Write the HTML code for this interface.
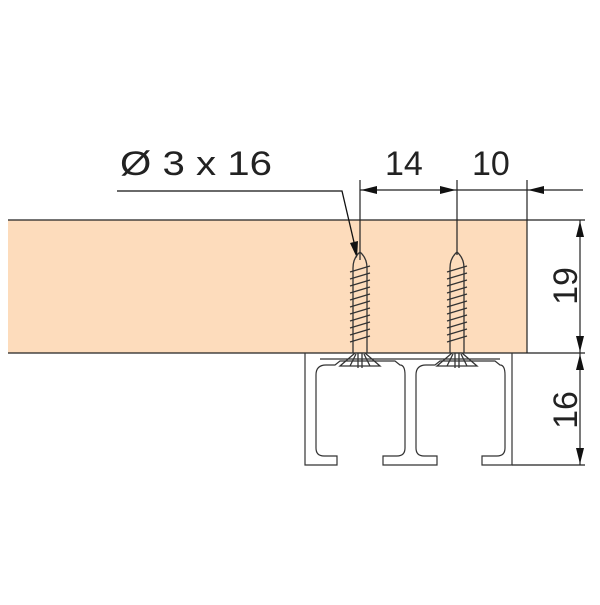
<!DOCTYPE html>
<html><head><style>body{margin:0;background:#fff}</style></head><body>
<svg width="600" height="600" viewBox="0 0 600 600" xmlns="http://www.w3.org/2000/svg" font-family="'Liberation Sans',sans-serif">
<rect x="8" y="220" width="519" height="133" fill="#fddcbc"/>
<line x1="8" y1="220" x2="585" y2="220" stroke="#222" stroke-width="1.3"/>
<line x1="8" y1="353" x2="585" y2="353" stroke="#222" stroke-width="1.3"/>
<line x1="527" y1="180" x2="527" y2="353" stroke="#222" stroke-width="1.2"/>
<line x1="360" y1="180" x2="360" y2="260" stroke="#222" stroke-width="1.2"/>
<line x1="457" y1="180" x2="457" y2="255" stroke="#222" stroke-width="1.2"/>
<line x1="360" y1="190" x2="583" y2="190" stroke="#222" stroke-width="1.2"/>
<polygon points="361,190 377,186 377,194" fill="#111"/>
<polygon points="456,190 440,186 440,194" fill="#111"/>
<polygon points="528,190 544,186 544,194" fill="#111"/>
<polyline points="117,191 342,191 357,255" fill="none" stroke="#111" stroke-width="1.3"/>
<polygon points="357,258 350,243 358,241" fill="#111"/>
<line x1="580" y1="220" x2="580" y2="465" stroke="#222" stroke-width="1.2"/>
<polygon points="580,221 576,237 584,237" fill="#111"/>
<polygon points="580,352 576,336 584,336" fill="#111"/>
<polygon points="580,354 576,370 584,370" fill="#111"/>
<polygon points="580,464 576,448 584,448" fill="#111"/>
<line x1="512" y1="465" x2="585" y2="465" stroke="#222" stroke-width="1.2"/>
<text x="120" y="175" font-size="34" fill="#222" textLength="152" lengthAdjust="spacingAndGlyphs">Ø 3 x 16</text>
<text x="385" y="175" font-size="34" fill="#222">14</text>
<text x="472" y="175" font-size="34" fill="#222">10</text>
<text transform="translate(577,286) rotate(-90)" text-anchor="middle" font-size="34" fill="#222">19</text>
<text transform="translate(577,410) rotate(-90)" text-anchor="middle" font-size="34" fill="#222">16</text>
<g fill="none" stroke="#333" stroke-width="1.2">
<path d="M305,353 V465 H337 V456 H324 Q316,456 316,448 V375 Q316,365 326,365 H335 L340,361 H395 L400,365 Q405,365 405,375 V448 Q405,456 397,456 H383 V465 H437 V456 H424 Q416,456 416,448 V375 Q416,365 426,365 H435 L440,361 H495 L500,365 Q505,365 505,375 V448 Q505,456 497,456 H482 V465 H512 V353"/>
<path d="M320,359 H500"/>
</g>
<g id="s" stroke="#333" stroke-width="1.3" fill="none">
<path d="M353,353 V268 Q353,258 360,252 Q367,258 367,268 V353"/>
<path d="M350,272 L370,266 M350,279 L370,273 M350,286 L370,280 M350,293 L370,287 M350,300 L370,294 M350,307 L370,301 M350,314 L370,308 M350,321 L370,315 M350,328 L370,322 M350,335 L370,329 M350,342 L370,336"/>
<path d="M340,366 L355,353 H365 L380,366 Z M358,353 V368 M362,353 V368 M350,366 L356,354 M370,366 L364,354"/>
</g>
<use href="#s" x="97"/>
</svg>
</body></html>
